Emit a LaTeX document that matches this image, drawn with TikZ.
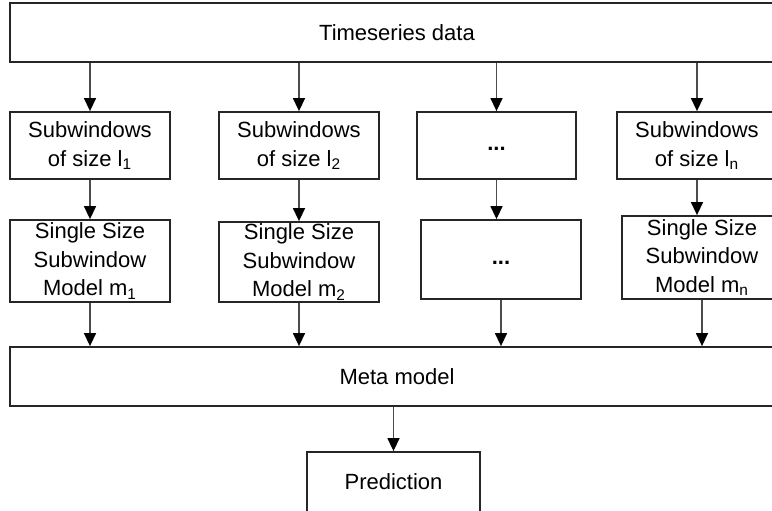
\documentclass[tikz,border=0pt]{standalone}
\usepackage{fontspec}
\setmainfont{Liberation Sans}
\usetikzlibrary{arrows.meta}
\begin{document}
\begin{tikzpicture}[x=0.5pt,y=-0.5pt,
  box/.style={draw=black!85, line width=0.9pt, inner sep=0pt, align=center,
    font=\fontsize{11pt}{14.3pt}\selectfont, fill=white},
  arr/.style={draw=black!70, line width=0.7pt, -{Triangle[width=6pt,length=6.5pt,color=black]}}]
\useasboundingbox (0,0) rectangle (772,510);
\clip (0,0) rectangle (772,510);
\node[box, minimum width=387pt, minimum height=29.5pt] (top) at (397,32.5) {Timeseries data};
\node[box, minimum width=80pt, minimum height=33.5pt] (r1a) at (90,145.5) {Subwindows\\of size l\textsubscript{1}};
\node[box, minimum width=80pt, minimum height=33.5pt] (r1b) at (299,145.5) {Subwindows\\of size l\textsubscript{2}};
\node[box, minimum width=79.5pt, minimum height=33.5pt] (r1c) at (496.5,145.5) {\vphantom{Ag}\textbf{...}};
\node[box, minimum width=80pt, minimum height=33.5pt] (r1d) at (697,145.5) {Subwindows\\of size l\textsubscript{n}};
\node[box, minimum width=80pt, minimum height=41pt] (r2a) at (90,261) {Single Size\\Subwindow\\Model m\textsubscript{1}};
\node[box, minimum width=80pt, minimum height=40pt] (r2b) at (299,262) {Single Size\\Subwindow\\Model m\textsubscript{2}};
\node[box, minimum width=80pt, minimum height=39.5pt] (r2c) at (501,259.5) {\vphantom{Ag}\textbf{...}};
\node[box, minimum width=80pt, minimum height=41.5pt] (r2d) at (702,257.5) {Single Size\\Subwindow\\Model m\textsubscript{n}};
\node[box, minimum width=387pt, minimum height=29.5pt] (meta) at (397,376.5) {Meta model};
\node[box, minimum width=86.5pt, minimum height=30pt] (pred) at (393.5,482) {Prediction};
\foreach \n in {r1a,r1b,r1c,r1d} {
  \draw[arr] (top.south -| \n.north) -- (\n.north);
}
\draw[arr] (r1a.south) -- (r1a.south |- r2a.north);
\draw[arr] (r1b.south) -- (r1b.south |- r2b.north);
\draw[arr] (r1c.south) -- (r1c.south |- r2c.north);
\draw[arr] (r1d.south) -- (r1d.south |- r2d.north);
\foreach \n in {r2a,r2b,r2c,r2d} {
  \draw[arr] (\n.south) -- (\n.south |- meta.north);
}
\draw[arr] (meta.south -| pred.north) -- (pred.north);
\end{tikzpicture}
\end{document}
